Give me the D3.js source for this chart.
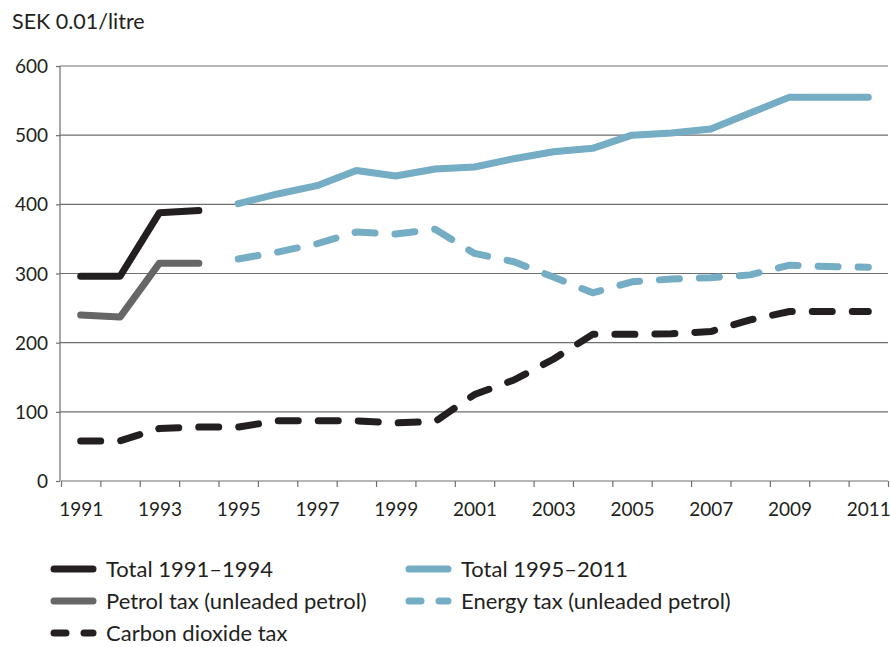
<!DOCTYPE html>
<html><head><meta charset="utf-8">
<script src="https://cdn.jsdelivr.net/npm/d3@7"></script>
<style>
body{margin:0;background:#fff;}
text{font-family:Lato,"Open Sans",sans-serif;fill:#231f20;}
</style></head><body>
<svg id="c" width="890" height="647"></svg>
<script>
const years1 = [1991, 1992, 1993, 1994];
const years2 = [1995,1996,1997,1998,1999,2000,2001,2002,2003,2004,2005,2006,2007,2008,2009,2010,2011];
const yearsAll = d3.range(1991, 2012);
const total1 = [296, 296, 388, 391];
const petrol = [240, 237, 315, 315];
const total2 = [401, 415, 427, 449, 441, 451, 454, 466, 476, 481, 500, 503, 509, 532, 555, 555, 555];
const energy = [321, 331, 343, 360, 357, 364, 329, 317, 295, 272, 288, 292, 294, 298, 312, 310, 309];
const co2 = [58, 58, 76, 78, 78, 87, 87, 87, 84, 86, 125, 146, 176, 212, 212, 213, 216, 233, 245, 245, 245];
const yTicks = [0, 100, 200, 300, 400, 500, 600];
const xLabelYears = [1991,1993,1995,1997,1999,2001,2003,2005,2007,2009,2011];
const yTitle = "SEK 0.01/litre";
const legendItems = [
  {label:"Total 1991–1994", color:"#231f20", dash:false, col:0, row:0},
  {label:"Total 1995–2011", color:"#74adc4", dash:false, col:1, row:0},
  {label:"Petrol tax (unleaded petrol)", color:"#666666", dash:false, col:0, row:1},
  {label:"Energy tax (unleaded petrol)", color:"#74adc4", dash:true, col:1, row:1},
  {label:"Carbon dioxide tax", color:"#231f20", dash:true, col:0, row:2}
];

const svg = d3.select("#c");
const x = d3.scaleLinear().domain([1990.5, 2011.5]).range([61, 888]);
const y = d3.scaleLinear().domain([0, 600]).range([481, 66]);

// gridlines
svg.append("g").selectAll("line").data(yTicks.filter(d=>d>0)).join("line")
  .attr("x1", 60).attr("x2", 888).attr("y1", d=>y(d)).attr("y2", d=>y(d))
  .attr("stroke", "#6d6e70").attr("stroke-width", 1.2);

// y axis
const ya = svg.append("g").attr("transform","translate(60,0)")
  .call(d3.axisLeft(y).tickValues(yTicks).tickSize(4).tickPadding(8).tickFormat(d=>d));
ya.select(".domain").attr("stroke","#6d6e70").attr("stroke-width",1.2).attr("d","M0,"+y(600)+"V"+y(0));
ya.selectAll(".tick line").attr("stroke","#6d6e70").attr("stroke-width",1.2);
ya.selectAll("text").style("font-size","19px").attr("dy","0.35em");

// x axis ticks
const xa = svg.append("g").attr("transform","translate(0,481)")
  .call(d3.axisBottom(x).tickValues(d3.range(1990.5, 2012, 1)).tickSize(6).tickFormat(""));
xa.select(".domain").attr("stroke","#6d6e70").attr("stroke-width",1.2).attr("d","M"+x(1990.5)+",0H"+x(2011.5));
xa.selectAll(".tick line").attr("stroke","#6d6e70").attr("stroke-width",1.2);
// x labels
const xl = svg.append("g").attr("transform","translate(0,481)")
  .call(d3.axisBottom(x).tickValues(xLabelYears).tickSize(0).tickPadding(22).tickFormat(d3.format("d")));
xl.select(".domain").remove();
xl.selectAll("text").style("font-size","19px");

// title
svg.append("text").attr("x", 12).attr("y", 29).style("font-size","21.5px").text(yTitle);

const line = d3.line().x(d=>x(d[0])).y(d=>y(d[1]));
function draw(xs, vs, color, dashed){
  svg.append("path").datum(xs.map((d,i)=>[d, vs[i]]))
    .attr("d", line).attr("fill","none").attr("stroke", color)
    .attr("stroke-width", 7).attr("stroke-linecap","round").attr("stroke-linejoin","round")
    .attr("stroke-dasharray", dashed ? "20,20" : null);
}
draw(years1, petrol, "#666666", false);
draw(years1, total1, "#231f20", false);
draw(years2, total2, "#74adc4", false);
draw(years2, energy, "#74adc4", true);
draw(yearsAll, co2, "#231f20", true);

// legend
const lg = svg.append("g");
legendItems.forEach(it=>{
  const lx = it.col === 0 ? 50 : 405;
  const ly = 569 + it.row * 32;
  const seg = (a,b)=>lg.append("line").attr("x1", lx+a).attr("x2", lx+b).attr("y1", ly).attr("y2", ly)
      .attr("stroke", it.color).attr("stroke-width", 7).attr("stroke-linecap","round");
  if (it.dash) { seg(4, 16); seg(34, 43); }
  else { seg(4, 43); }
  lg.append("text").attr("x", lx+56).attr("y", ly).attr("dy","0.35em").style("font-size","22px").text(it.label);
});
</script></body></html>
